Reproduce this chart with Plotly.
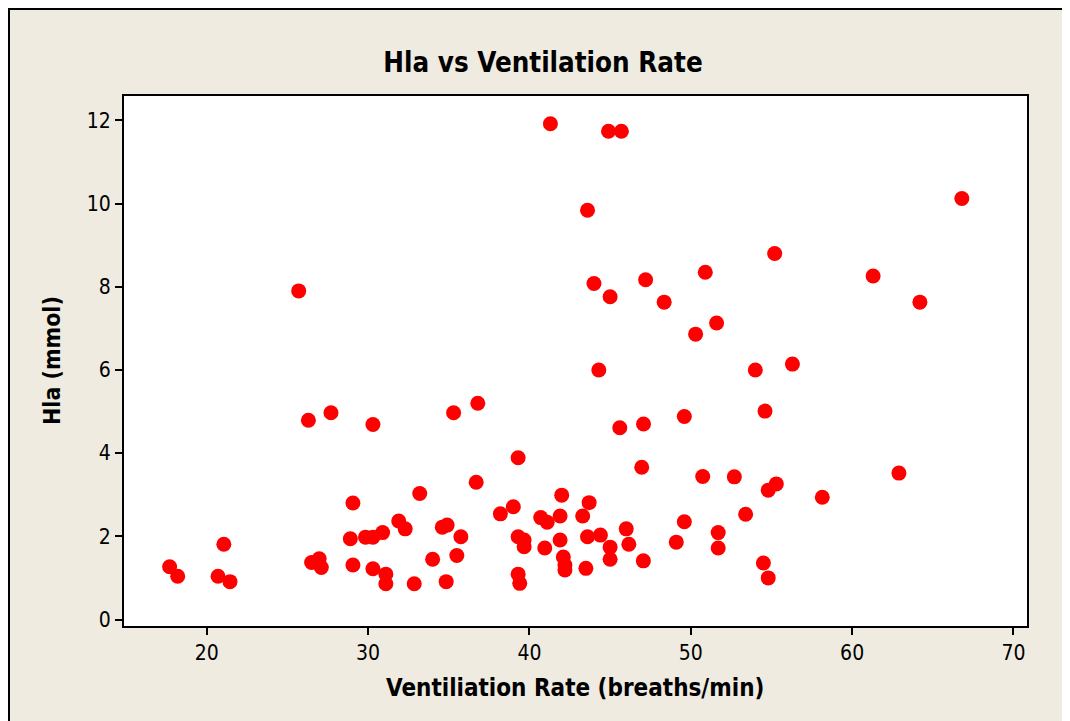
import plotly.graph_objects as go

ventilation = [25.7, 41.3, 44.9, 45.7, 43.6, 44.0, 45.0, 47.2, 48.35, 50.9, 51.6, 50.3,
               66.8, 55.2, 61.3, 64.2, 26.3, 27.7, 30.3, 33.2, 29.06, 31.9, 32.3, 28.9,
               29.84, 30.3, 30.9, 21.06, 17.7, 18.2, 20.7, 21.44, 26.5, 26.97, 27.1, 29.06,
               30.3, 31.1, 31.1, 32.86, 44.3, 35.3, 36.8, 45.6, 47.07, 49.6, 39.3, 46.96,
               50.74, 36.7, 42.0, 43.7, 39.0, 38.2, 40.7, 41.1, 41.9, 43.3, 49.6, 34.6,
               34.9, 35.75, 39.3, 39.67, 39.67, 41.9, 43.6, 44.4, 46.0, 40.95, 45.0, 46.16,
               49.1, 34.0, 35.5, 42.1, 42.2, 42.2, 45.0, 47.06, 43.5, 34.84, 39.3, 39.4,
               51.7, 51.7, 54.0, 56.3, 54.6, 62.9, 52.7, 55.3, 54.8, 58.15, 53.4, 54.5, 54.8]
hla = [7.90, 11.92, 11.74, 11.74, 9.84, 8.08, 7.76, 8.17, 7.63, 8.35, 7.13, 6.86,
       10.12, 8.80, 8.26, 7.63, 4.79, 4.97, 4.69, 3.03, 2.80, 2.37, 2.18, 1.94,
       1.98, 1.98, 2.09, 1.81, 1.27, 1.04, 1.04, 0.91, 1.37, 1.46, 1.25, 1.31,
       1.22, 1.09, 0.86, 0.86, 6.00, 4.97, 5.20, 4.61, 4.70, 4.88, 3.89, 3.66,
       3.44, 3.30, 2.99, 2.81, 2.71, 2.54, 2.45, 2.34, 2.49, 2.49, 2.35, 2.22,
       2.27, 1.99, 1.99, 1.91, 1.75, 1.91, 1.99, 2.03, 2.18, 1.72, 1.74, 1.81,
       1.86, 1.45, 1.54, 1.50, 1.31, 1.19, 1.45, 1.41, 1.23, 0.91, 1.09, 0.87,
       2.09, 1.72, 6.00, 6.14, 5.01, 3.52, 3.43, 3.26, 3.11, 2.94, 2.53, 1.36, 1.00]

x_ticks = [20, 30, 40, 50, 60, 70]
y_ticks = [0, 2, 4, 6, 8, 10, 12]

W, H = 1070, 721
# figure coordinates (page offset of 8px already accounted for)
ML, MT = 115, 87
PR, PB = 1020, 619
MR, MB = W - PR, H - PB
PW, PH = PR - ML, PB - MT

def px(xp):
    return (xp - ML) / PW

def py(yp):
    return 1 - (yp - MT) / PH

FONT = "DejaVu Sans Condensed"
beige = "#EFEBE1"

fig = go.Figure(go.Scatter(
    x=ventilation, y=hla, mode="markers",
    marker=dict(color="#FF0000", size=15, line=dict(width=0)),
    showlegend=False, hoverinfo="x+y",
))

shapes = [
    dict(type="line", xref="paper", yref="paper", x0=px(0), x1=px(W), y0=py(0.5), y1=py(0.5),
         line=dict(color="black", width=3)),
    dict(type="line", xref="paper", yref="paper", x0=px(0.5), x1=px(0.5), y0=py(0), y1=py(H),
         line=dict(color="black", width=3)),
    dict(type="rect", xref="paper", yref="paper", x0=0, x1=1, y0=0, y1=1,
         line=dict(color="black", width=2)),
]

annotations = [
    dict(text="<b>Ventiliation Rate (breaths/min)</b>", xref="paper", yref="paper",
         x=px(567), y=py(680), xanchor="center", yanchor="middle", showarrow=False,
         font=dict(family=FONT, size=24, color="black")),
    dict(text="<b>Hla (mmol)</b>", xref="paper", yref="paper", textangle=-90,
         x=px(44), y=py(353), xanchor="center", yanchor="middle", showarrow=False,
         font=dict(family=FONT, size=23, color="black")),
]

fig.update_layout(
    width=W, height=H,
    margin=dict(l=ML, r=MR, t=MT, b=MB),
    paper_bgcolor=beige, plot_bgcolor="white",
    title=dict(text="<b>Hla vs Ventilation Rate</b>", x=535 / W, xanchor="center",
               y=1 - 54 / H, yanchor="middle",
               font=dict(family=FONT, size=27.5, color="black")),
    shapes=shapes,
    annotations=annotations,
    xaxis=dict(range=[14.81, 70.9], tickvals=x_ticks, ticks="outside", ticklen=7,
               tickwidth=2, tickcolor="black", showgrid=False, zeroline=False,
               showline=False, tickfont=dict(family=FONT, size=21, color="black")),
    yaxis=dict(range=[-0.18, 12.61], tickvals=y_ticks, ticks="outside", ticklen=7,
               tickwidth=2, tickcolor="black", showgrid=False, zeroline=False,
               showline=False, tickfont=dict(family=FONT, size=21, color="black")),
)

fig.write_html("out.html")
